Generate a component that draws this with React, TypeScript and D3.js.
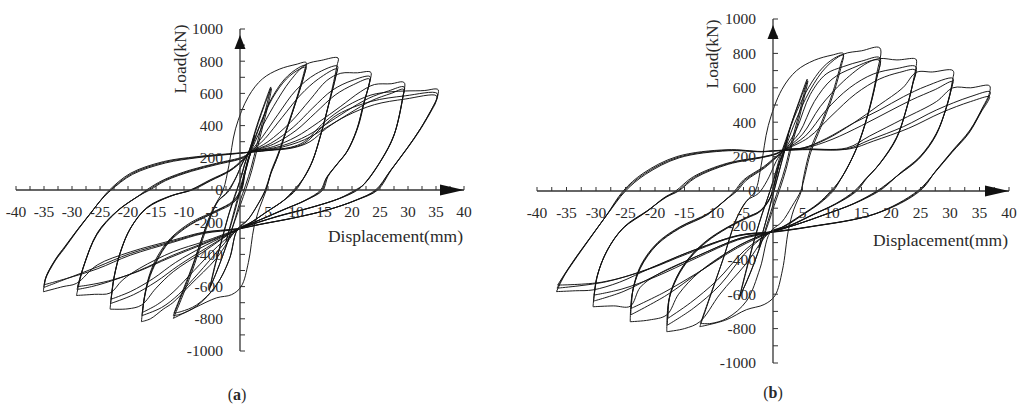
import React from 'react';
import * as d3 from 'd3';

// tick labels shared by both panels
const X_TICK_LABELS = [-40, -35, -30, -25, -20, -15, -10, -5, 5, 10, 15, 20, 25, 30, 35, 40];
const Y_TICK_LABELS = [1000, 800, 600, 400, 200, 0, -200, -400, -600, -800, -1000];

// ---------- panel (a): loops as flat [disp, load, disp, load, ...] ----------
const A_G0 = [
  [-2.5, -320, -1.5, -190, -0.5, -60, 0.5, 70, 1.5, 200, 2.6, 340, 2.1, 260, 1.1, 130, 0.1, 0, -0.9, -130, -1.9, -250, -2.5, -320],
];
const A_G1 = [
  [-5.5, -620, -4.5, -470, -3.2, -300, -2, -150, -1, -40, 0, 60, 0.8, 160, 1.8, 260, 3, 400, 4.2, 520, 5.5, 640, 5, 560, 4, 420, 3, 280, 2, 140, 1, 30, 0, -70, -0.8, -170, -1.8, -280, -3, -400, -4.2, -510, -5.5, -620],
  [-5.3, -600, -4.3, -450, -3, -280, -1.8, -130, -0.7, -20, 0.3, 90, 1.2, 200, 2.2, 300, 3.3, 420, 4.4, 530, 5.6, 630, 5.1, 540, 4.1, 400, 3.1, 260, 2.1, 120, 1.1, 10, 0.1, -90, -0.9, -190, -2, -300, -3.2, -420, -4.3, -520, -5.3, -600],
];
const A_G2 = [
  [-11.9, -797, -10.5, -680, -8.6, -510, -6.6, -300, -5.4, -180, -4.2, -80, -3, 0, -2, 150, -0.8, 380, 1.5, 580, 4, 690, 7, 750, 10, 780, 11.8, 792, 11.5, 740, 10.2, 580, 8.5, 400, 6.8, 225, 5.5, 110, 4.7, 0, 3.5, -110, 2.5, -230, 1.5, -450, 0.2, -600, -1.5, -650, -4.2, -670, -8, -730, -11.9, -797],
  [-11.9, -780, -10.6, -670, -8.7, -500, -6.7, -290, -5.5, -170, -4, -70, -2.5, -20, -1, 60, 0.5, 170, 1.8, 250, 3.5, 400, 5.5, 560, 8, 690, 10.5, 760, 11.8, 775, 11.5, 720, 10.2, 570, 8.5, 390, 6.8, 215, 5.5, 100, 4.6, 0, 3.2, -90, 1.5, -180, -0.5, -245, -1.8, -420, -4.2, -590, -7.7, -720, -10.5, -770, -11.9, -780],
  [-11.8, -765, -10.5, -650, -8.6, -480, -6.6, -280, -5.3, -165, -3.8, -65, -2.2, -15, -0.8, 70, 0.6, 180, 2, 260, 3.8, 420, 5.8, 570, 8.3, 690, 10.6, 750, 11.7, 762, 11.4, 705, 10.1, 560, 8.4, 380, 6.7, 205, 5.4, 95, 4.5, 0, 3, -100, 1.3, -190, -0.5, -250, -2, -440, -4.4, -600, -7.8, -715, -10.5, -755, -11.8, -765],
];
const A_G3 = [
  [-17.6, -818, -17.2, -700, -16.3, -560, -14.9, -445, -12.6, -321, -8.9, -217, -4.2, -135, -1.2, -80, 0.3, 0, 1, 120, 2, 240, 3.5, 360, 6, 520, 9, 680, 11.8, 780, 14.5, 805, 17.5, 820, 17.3, 770, 16, 560, 14.5, 352, 13, 186, 11.5, 83, 10, 0, 8, -60, 5, -130, 2, -200, -0.5, -245, -4.2, -424, -8.9, -590, -12, -700, -13.7, -740, -16, -800, -17.6, -818],
  [-17.5, -780, -17.1, -670, -16.2, -540, -14.8, -430, -12.5, -310, -8.8, -210, -4.2, -130, -1.3, -75, 0.2, 0, 0.9, 110, 2, 235, 4, 330, 6.8, 470, 10, 620, 13.5, 720, 17.4, 770, 17.2, 720, 15.9, 540, 14.4, 340, 12.9, 175, 11.4, 75, 9.8, 0, 7.8, -65, 4.8, -135, 1.8, -205, -0.5, -248, -3.5, -360, -7.5, -520, -11, -650, -14, -730, -17.5, -780],
  [-17.4, -760, -17, -650, -16.1, -520, -14.7, -410, -12.4, -300, -8.7, -200, -4.1, -125, -1.3, -70, 0.1, 0, 0.8, 100, 1.9, 228, 4.5, 320, 7.5, 450, 10.8, 590, 14, 690, 17.3, 752, 17.1, 705, 15.8, 525, 14.3, 330, 12.8, 168, 11.3, 70, 9.6, 0, 7.6, -70, 4.6, -140, 1.6, -210, -0.5, -250, -4, -350, -8.2, -500, -11.8, -630, -14.7, -710, -17.4, -760],
];
const A_G4 = [
  [-23.2, -740, -22.6, -560, -21.4, -390, -19.6, -240, -16.7, -115, -12.5, -40, -8.9, 0, -5.4, 62, -1.8, 124, 0.5, 190, 2, 238, 5, 300, 9, 420, 12.5, 560, 15.5, 680, 18, 725, 21, 728, 23, 736, 23.4, 729, 23.3, 690, 22.3, 560, 21.1, 393, 19.3, 248, 17.5, 166, 15.7, 83, 14.8, 0, 12, -60, 8, -120, 4, -180, -0.5, -245, -6.5, -383, -11.9, -507, -15, -610, -17.6, -715, -20, -738, -23.2, -740],
  [-23.1, -705, -22.5, -545, -21.3, -380, -19.5, -235, -16.6, -110, -12.4, -38, -8.7, 0, -5.3, 60, -1.8, 120, 0.5, 185, 2, 236, 5.5, 290, 9.5, 390, 13, 510, 16.5, 620, 20, 680, 23.2, 705, 23.1, 665, 22.1, 540, 20.9, 380, 19.1, 240, 17.3, 160, 15.5, 78, 14.6, 0, 11.8, -62, 7.8, -122, 3.8, -182, -0.5, -247, -6, -360, -11, -470, -15, -570, -19, -650, -23.1, -705],
  [-23, -678, -22.4, -530, -21.2, -370, -19.4, -228, -16.5, -105, -12.3, -35, -8.5, 0, -5.2, 58, -1.8, 118, 0.5, 182, 2, 235, 6, 285, 10, 370, 13.5, 480, 17, 590, 20.3, 655, 23.1, 690, 23, 650, 22, 525, 20.8, 370, 19, 232, 17.2, 155, 15.4, 74, 14.4, 0, 11.6, -64, 7.6, -124, 3.6, -184, -0.5, -249, -6.2, -345, -11.5, -450, -15.5, -550, -19.5, -630, -23, -678],
];
const A_G5 = [
  [-29.2, -655, -28, -486, -25.6, -280, -22, -135, -17.9, -31, -16.7, 0, -13.7, 62, -8.9, 124, -4.2, 166, 0.6, 207, 2, 238, 6, 270, 10, 330, 14, 420, 18, 520, 21.5, 610, 24, 655, 27, 660, 29, 672, 29.4, 663, 29.2, 600, 27.6, 352, 25.2, 186, 22.3, 43, 21, 0, 18, -50, 13, -105, 7, -160, 2, -215, -0.5, -245, -6.5, -321, -11.9, -383, -17.9, -486, -21, -560, -23.2, -640, -26, -648, -29.2, -655],
  [-29.1, -618, -27.9, -470, -25.5, -270, -21.9, -130, -17.7, -28, -16.4, 0, -13.5, 60, -8.8, 120, -4.2, 162, 0.6, 203, 2, 237, 6.5, 265, 11, 320, 15, 400, 19, 490, 23, 570, 26.5, 615, 29.3, 640, 29.1, 580, 27.5, 340, 25.1, 178, 22.2, 38, 20.8, 0, 17.8, -52, 12.8, -108, 6.8, -163, 1.8, -218, -0.5, -247, -6.5, -330, -12, -405, -18, -500, -23, -565, -26.5, -600, -29.1, -618],
  [-29, -600, -27.8, -460, -25.4, -262, -21.8, -126, -17.5, -25, -16.1, 0, -13.3, 58, -8.6, 117, -4.1, 158, 0.6, 200, 2, 236, 7, 262, 11.5, 312, 15.5, 390, 19.5, 475, 23.5, 555, 27, 600, 29.2, 625, 29, 565, 27.4, 330, 25, 172, 22.1, 34, 20.6, 0, 17.6, -54, 12.6, -110, 6.6, -166, 1.6, -220, -0.5, -249, -6.8, -340, -12.5, -420, -18.5, -510, -23.5, -565, -27, -590, -29, -600],
];
const A_G6 = [
  [-35.1, -632, -34.8, -560, -33, -440, -31.5, -370, -29, -250, -26.8, -150, -24.8, -60, -23.3, 0, -19.6, 103, -13.7, 176, -7.7, 207, -2, 225, 0.6, 232, 5, 248, 9, 265, 11.5, 300, 15, 420, 19, 520, 23.4, 590, 27, 610, 29.5, 615, 33, 618, 35, 628, 35.4, 622, 35.2, 570, 34.8, 540, 32.4, 391, 30, 267, 27, 124, 24.6, 0, 21, -60, 16, -120, 10, -170, 4, -210, -0.5, -240, -6.5, -262, -11.9, -311, -19.6, -385, -25.5, -466, -29.2, -580, -31.6, -600, -35.1, -632],
  [-35, -605, -34.7, -545, -32.9, -430, -31.4, -360, -28.9, -242, -26.7, -145, -24.7, -57, -23.1, 0, -19.4, 100, -13.5, 172, -7.6, 204, -2, 223, 0.6, 231, 5, 247, 9, 262, 11.5, 290, 14.5, 385, 17.5, 470, 23.4, 550, 29.5, 585, 35.2, 600, 35, 555, 34.6, 525, 32.2, 380, 29.8, 258, 26.8, 118, 24.4, 0, 20.8, -62, 15.8, -122, 9.8, -172, 3.8, -212, -0.5, -242, -6.5, -266, -11.9, -318, -19.6, -395, -25.5, -478, -30.5, -545, -35, -605],
  [-34.9, -588, -34.6, -535, -32.8, -422, -31.3, -352, -28.8, -236, -26.6, -140, -24.6, -54, -23, 0, -19.2, 97, -13.3, 168, -7.5, 201, -2, 221, 0.6, 230, 5, 245, 9.5, 262, 12.5, 300, 15.5, 385, 19, 460, 24, 530, 29.5, 565, 35.1, 585, 34.9, 540, 34.5, 512, 32.1, 370, 29.7, 250, 26.7, 112, 24.2, 0, 20.6, -64, 15.6, -124, 9.6, -174, 3.6, -214, -0.5, -244, -6.5, -270, -12, -325, -19.6, -405, -25.5, -490, -31, -550, -34.9, -588],
];

// ---------- panel (b) ----------
const B_G0 = [
  [-2.4, -330, -1.4, -200, -0.4, -70, 0.6, 60, 1.6, 190, 2.6, 330, 2.1, 250, 1.1, 120, 0.1, -10, -0.9, -140, -1.9, -260, -2.4, -330],
];
const B_G1 = [
  [-5.8, -630, -4.7, -480, -3.4, -310, -2.1, -160, -1, -50, 0, 50, 0.9, 150, 1.9, 250, 3.1, 390, 4.4, 520, 5.8, 650, 5.2, 560, 4.2, 420, 3.1, 280, 2.1, 140, 1.1, 30, 0.1, -70, -0.8, -170, -1.9, -290, -3.1, -410, -4.4, -520, -5.8, -630],
  [-5.6, -610, -4.5, -460, -3.2, -290, -1.9, -140, -0.8, -30, 0.2, 80, 1.1, 190, 2.2, 300, 3.4, 420, 4.6, 530, 5.9, 640, 5.3, 545, 4.3, 405, 3.2, 265, 2.2, 125, 1.2, 15, 0.2, -85, -0.8, -190, -2, -305, -3.3, -430, -4.5, -530, -5.6, -610],
];
const B_G2 = [
  [-12.4, -789, -10.5, -600, -8.5, -400, -6.2, -160, -4.5, -60, -3, 0, -2, 150, -0.8, 380, 1.5, 590, 4, 700, 7, 760, 10, 790, 11.9, 800, 11.5, 740, 10, 560, 8, 380, 6.3, 238, 5.1, 64, 4.8, 0, 3.5, -110, 2.6, -230, 1.6, -460, 0.3, -610, -1.5, -660, -4.5, -690, -8, -750, -12.4, -789],
  [-12.3, -770, -10.4, -585, -8.4, -390, -6.1, -155, -4.4, -55, -2.5, -15, -1, 60, 0.5, 170, 1.8, 250, 3.5, 420, 6, 600, 8.5, 720, 10.8, 780, 11.9, 790, 11.6, 730, 10.1, 550, 8.1, 370, 6.4, 225, 5.2, 60, 4.7, 0, 3.2, -90, 1.5, -180, -0.5, -240, -2.2, -450, -4.5, -640, -7.8, -740, -10.5, -770, -12.3, -770],
];
const B_G3 = [
  [-18, -818, -17.7, -644, -16.3, -508, -14.1, -392, -11.2, -295, -7.8, -217, -4.5, -159, -2.2, -120, -0.5, -43, 0.3, 50, 1, 150, 2, 240, 3.5, 380, 6.3, 587, 9, 720, 11.9, 795, 15, 815, 18.1, 832, 17.6, 684, 16.4, 490, 14.7, 297, 13, 161, 11.4, 64, 10.2, 0, 8, -70, 5, -140, 2, -205, -0.5, -238, -4.5, -420, -9, -600, -12.4, -760, -15, -800, -18, -818],
  [-17.9, -780, -17.6, -625, -16.2, -495, -14, -382, -11.1, -288, -7.7, -212, -4.5, -155, -2.2, -117, -0.5, -40, 0.3, 50, 1, 150, 2, 238, 4, 360, 6.3, 560, 9, 680, 11.9, 723, 15, 755, 18.1, 775, 17.6, 660, 16.3, 470, 14.6, 285, 12.9, 155, 11.3, 60, 10, 0, 7.8, -72, 4.8, -142, 1.8, -207, -0.5, -240, -4.5, -353, -9, -547, -13.5, -682, -17.9, -780],
  [-17.8, -740, -17.5, -610, -16.1, -485, -13.9, -375, -11, -282, -7.6, -208, -4.4, -152, -2.2, -115, -0.5, -38, 0.3, 52, 1, 150, 2, 236, 4.5, 340, 7, 520, 10, 650, 13.5, 715, 18, 760, 17.5, 645, 16.2, 458, 14.5, 276, 12.8, 150, 11.2, 56, 9.8, 0, 7.6, -74, 4.6, -144, 1.6, -209, -0.5, -242, -4.8, -345, -9.5, -520, -14, -650, -17.8, -740],
];
const B_G4 = [
  [-24.2, -760, -23.9, -605, -22.5, -450, -19.7, -314, -15.8, -217, -11.2, -140, -8, -50, -6.5, 0, -5, 64, -1.6, 141, 0.5, 200, 2, 240, 5, 330, 8, 490, 12, 640, 16, 745, 18.1, 770, 21, 762, 24, 770, 24.3, 762, 23.8, 645, 22.7, 490, 21, 316, 18.1, 161, 15.8, 70, 14.2, 0, 11, -70, 7, -135, 3, -200, -0.5, -238, -5.6, -314, -12.4, -469, -16, -600, -18, -720, -21, -750, -24.2, -760],
  [-24.1, -720, -23.8, -585, -22.4, -438, -19.6, -306, -15.7, -211, -11.1, -135, -7.9, -48, -6.3, 0, -4.8, 62, -1.5, 138, 0.5, 196, 2, 238, 5.5, 320, 9, 470, 13, 600, 17, 680, 21, 712, 24.2, 723, 23.7, 625, 22.6, 475, 20.9, 305, 18, 155, 15.6, 66, 14, 0, 10.8, -72, 6.8, -137, 2.8, -202, -0.5, -240, -5.6, -314, -12.4, -469, -18, -605, -24.1, -720],
  [-24, -682, -23.7, -565, -22.3, -425, -19.5, -298, -15.6, -205, -11, -130, -7.8, -45, -6.1, 0, -4.6, 60, -1.4, 135, 0.5, 192, 2, 236, 6, 310, 10, 440, 14, 565, 18, 650, 21.5, 690, 24.1, 703, 23.6, 610, 22.5, 462, 20.8, 296, 17.9, 150, 15.5, 62, 13.8, 0, 10.6, -74, 6.6, -139, 2.6, -204, -0.5, -242, -6, -330, -13, -480, -18.5, -590, -24, -682],
];
const B_G5 = [
  [-30.5, -673, -29.9, -508, -28.2, -353, -25.4, -217, -21.4, -120, -18.5, -40, -16.5, 0, -13.5, 83, -7.8, 161, -1.6, 200, 0.5, 218, 2, 240, 5.1, 250, 9, 300, 13.6, 394, 18, 500, 22, 600, 24.3, 690, 27, 692, 30.5, 700, 30.4, 640, 29.4, 490, 27.7, 336, 24.9, 200, 21.5, 103, 19.5, 40, 18, 0, 14, -70, 9, -135, 4, -195, -0.5, -238, -5.6, -275, -12.4, -372, -19.7, -488, -22.5, -560, -24.2, -670, -27, -668, -30.5, -673],
  [-30.4, -640, -29.8, -495, -28.1, -345, -25.3, -212, -21.3, -116, -18.3, -38, -16.2, 0, -13.3, 80, -7.7, 158, -1.6, 198, 0.5, 216, 2, 239, 5.1, 250, 9, 305, 13.6, 394, 18, 470, 22.1, 548, 26, 610, 30.5, 655, 30.3, 605, 29.3, 475, 27.6, 325, 24.8, 192, 21.4, 98, 19.3, 38, 17.8, 0, 13.8, -72, 8.8, -137, 3.8, -197, -0.5, -240, -5.6, -275, -12.4, -372, -19.7, -488, -25.4, -585, -30.4, -640],
  [-30.3, -605, -29.7, -485, -28, -338, -25.2, -207, -21.2, -112, -18.1, -36, -16, 0, -13.1, 78, -7.6, 155, -1.6, 196, 0.5, 214, 2, 238, 5.5, 250, 10, 300, 15, 380, 19.5, 460, 23.5, 530, 27.5, 590, 30.4, 636, 30.2, 590, 29.2, 465, 27.5, 316, 24.7, 186, 21.3, 94, 19.1, 36, 17.6, 0, 13.6, -74, 8.6, -139, 3.6, -199, -0.5, -242, -6, -285, -13, -390, -20, -500, -25.6, -570, -30.3, -605],
];
const B_G6 = [
  [-36.7, -585, -35.5, -500, -33.8, -411, -31, -275, -28.2, -140, -25.4, 0, -22, 103, -16.3, 200, -7.8, 240, -2, 230, 0.5, 235, 5, 245, 12.5, 250, 16.4, 320, 22.1, 420, 27.7, 520, 30.5, 600, 33.5, 600, 36.5, 615, 36.8, 606, 36.6, 560, 35.6, 490, 33.4, 355, 30.5, 238, 27.7, 122, 24.9, 0, 17.6, -130, 6.3, -207, -0.5, -238, -5.6, -256, -14.1, -353, -20.8, -449, -26, -530, -30.5, -575, -33.5, -580, -36.7, -585],
  [-36.6, -565, -35.4, -490, -33.7, -402, -30.9, -268, -28.1, -136, -25.2, 0, -21.8, 100, -16.1, 196, -7.7, 237, -2, 229, 0.5, 234, 5, 242, 12.5, 245, 16.4, 297, 22.1, 374, 27.7, 471, 33.4, 548, 36.8, 577, 36.5, 540, 35.5, 478, 33.3, 345, 30.4, 230, 27.6, 116, 24.7, 0, 17.4, -132, 6.1, -209, -0.5, -240, -5.6, -256, -14.1, -353, -20.8, -449, -28.2, -527, -36.6, -565],
  [-36.5, -547, -35.3, -482, -33.6, -395, -30.8, -262, -28, -132, -25, 0, -21.6, 97, -15.9, 193, -7.6, 234, -2, 228, 0.5, 233, 5, 240, 13, 245, 17, 290, 23, 365, 28.5, 455, 33.5, 520, 36.7, 548, 36.4, 520, 35.4, 466, 33.2, 336, 30.3, 223, 27.5, 110, 24.5, 0, 17.2, -134, 5.9, -211, -0.5, -242, -6, -262, -14.5, -365, -21.5, -460, -29, -530, -36.5, -547],
];

const PANEL_A_LOOPS = [...A_G0, ...A_G1, ...A_G2, ...A_G3, ...A_G4, ...A_G5, ...A_G6];
const PANEL_B_LOOPS = [...B_G0, ...B_G1, ...B_G2, ...B_G3, ...B_G4, ...B_G5, ...B_G6];

const FONT = '"Liberation Serif", "Times New Roman", serif';
const INK = '#111';
const TEXT = '#2a2a2a';

function toPairs(flat) {
  const pts = [];
  for (let i = 0; i < flat.length; i += 2) pts.push([flat[i], flat[i + 1]]);
  pts.push(pts[0]);
  return pts;
}

function Panel({ label, xRange, yRange, loops, yLabelPos, xTitleY, captionX, captionY }) {
  const x = d3.scaleLinear().domain([-40, 40]).range(xRange);
  const y = d3.scaleLinear().domain([-1000, 1000]).range(yRange);
  const x0 = x(0);
  const y0 = y(0);
  const line = d3.line()
    .x(d => x(d[0]))
    .y(d => y(d[1]))
    .curve(d3.curveCatmullRom.alpha(0.5));

  const xMinor = d3.range(-40, 40.01, 2.5);
  const yMinor = d3.range(-1000, 1000.01, 100);
  const yTop = y(1000);
  const arrowTip = yTop + 6;
  const xEnd = x(40);

  return (
    <g>
      {loops.map((flat, i) => (
        <path key={i} d={line(toPairs(flat))} fill="none" stroke={INK} strokeWidth={0.95} />
      ))}

      {/* x axis */}
      <line x1={x(-40)} x2={xEnd} y1={y0} y2={y0} stroke="#333" strokeWidth={1.3} />
      {xMinor.map(t => (
        <line key={t} x1={x(t)} x2={x(t)} y1={y0} y2={y0 - 4} stroke="#333" strokeWidth={1} />
      ))}
      <path d={`M${xEnd},${y0} L${xEnd - 24},${y0 - 5.5} L${xEnd - 24},${y0 + 5.5} Z`} fill="#111" />

      {/* y axis */}
      <line x1={x0} x2={x0} y1={y(1000)} y2={y(-1000)} stroke="#333" strokeWidth={1.3} />
      {yMinor.map(t => (
        <line key={t} x1={x0} x2={x0 + 5} y1={y(t)} y2={y(t)} stroke="#333" strokeWidth={1} />
      ))}
      <path d={`M${x0},${arrowTip} L${x0 - 5.5},${arrowTip + 14} L${x0 + 5.5},${arrowTip + 14} Z`} fill="#111" />

      {/* tick labels */}
      {X_TICK_LABELS.map(t => (
        <text key={t} x={x(t)} y={y0 + 22} dy="0.35em" textAnchor="middle"
          fontFamily={FONT} fontSize={15.5} fill={TEXT}>{t}</text>
      ))}
      {Y_TICK_LABELS.map(t => (
        <text key={t} x={x0 - 17} y={y(t)} dy="0.35em" textAnchor="end"
          fontFamily={FONT} fontSize={15.5} fill={TEXT}>{t}</text>
      ))}

      {/* axis titles */}
      <text x={xEnd - 1} y={xTitleY} textAnchor="end" fontFamily={FONT} fontSize={17.5} fill={TEXT}>
        Displacement(mm)
      </text>
      <text x={yLabelPos[0]} y={yLabelPos[1]} textAnchor="middle" dy="0.35em"
        transform={`rotate(-90, ${yLabelPos[0]}, ${yLabelPos[1]})`}
        fontFamily={FONT} fontSize={17.5} fill={TEXT}>
        Load(kN)
      </text>

      <text x={captionX} y={captionY} textAnchor="middle" fontFamily={FONT} fontSize={16} fill={TEXT}>
        (<tspan fontWeight="bold">{label}</tspan>)
      </text>
    </g>
  );
}

export default function App() {
  return (
    <svg width={1023} height={406} style={{ position: 'absolute', left: 0, top: 0, background: '#fff' }}>
      <Panel label="a" xRange={[16, 464]} yRange={[351, 29]} loops={PANEL_A_LOOPS}
        yLabelPos={[180, 59]} xTitleY={242} captionX={237} captionY={400} />
      <Panel label="b" xRange={[537, 1009]} yRange={[363, 19]} loops={PANEL_B_LOOPS}
        yLabelPos={[712, 54]} xTitleY={246} captionX={773} captionY={398} />
    </svg>
  );
}
